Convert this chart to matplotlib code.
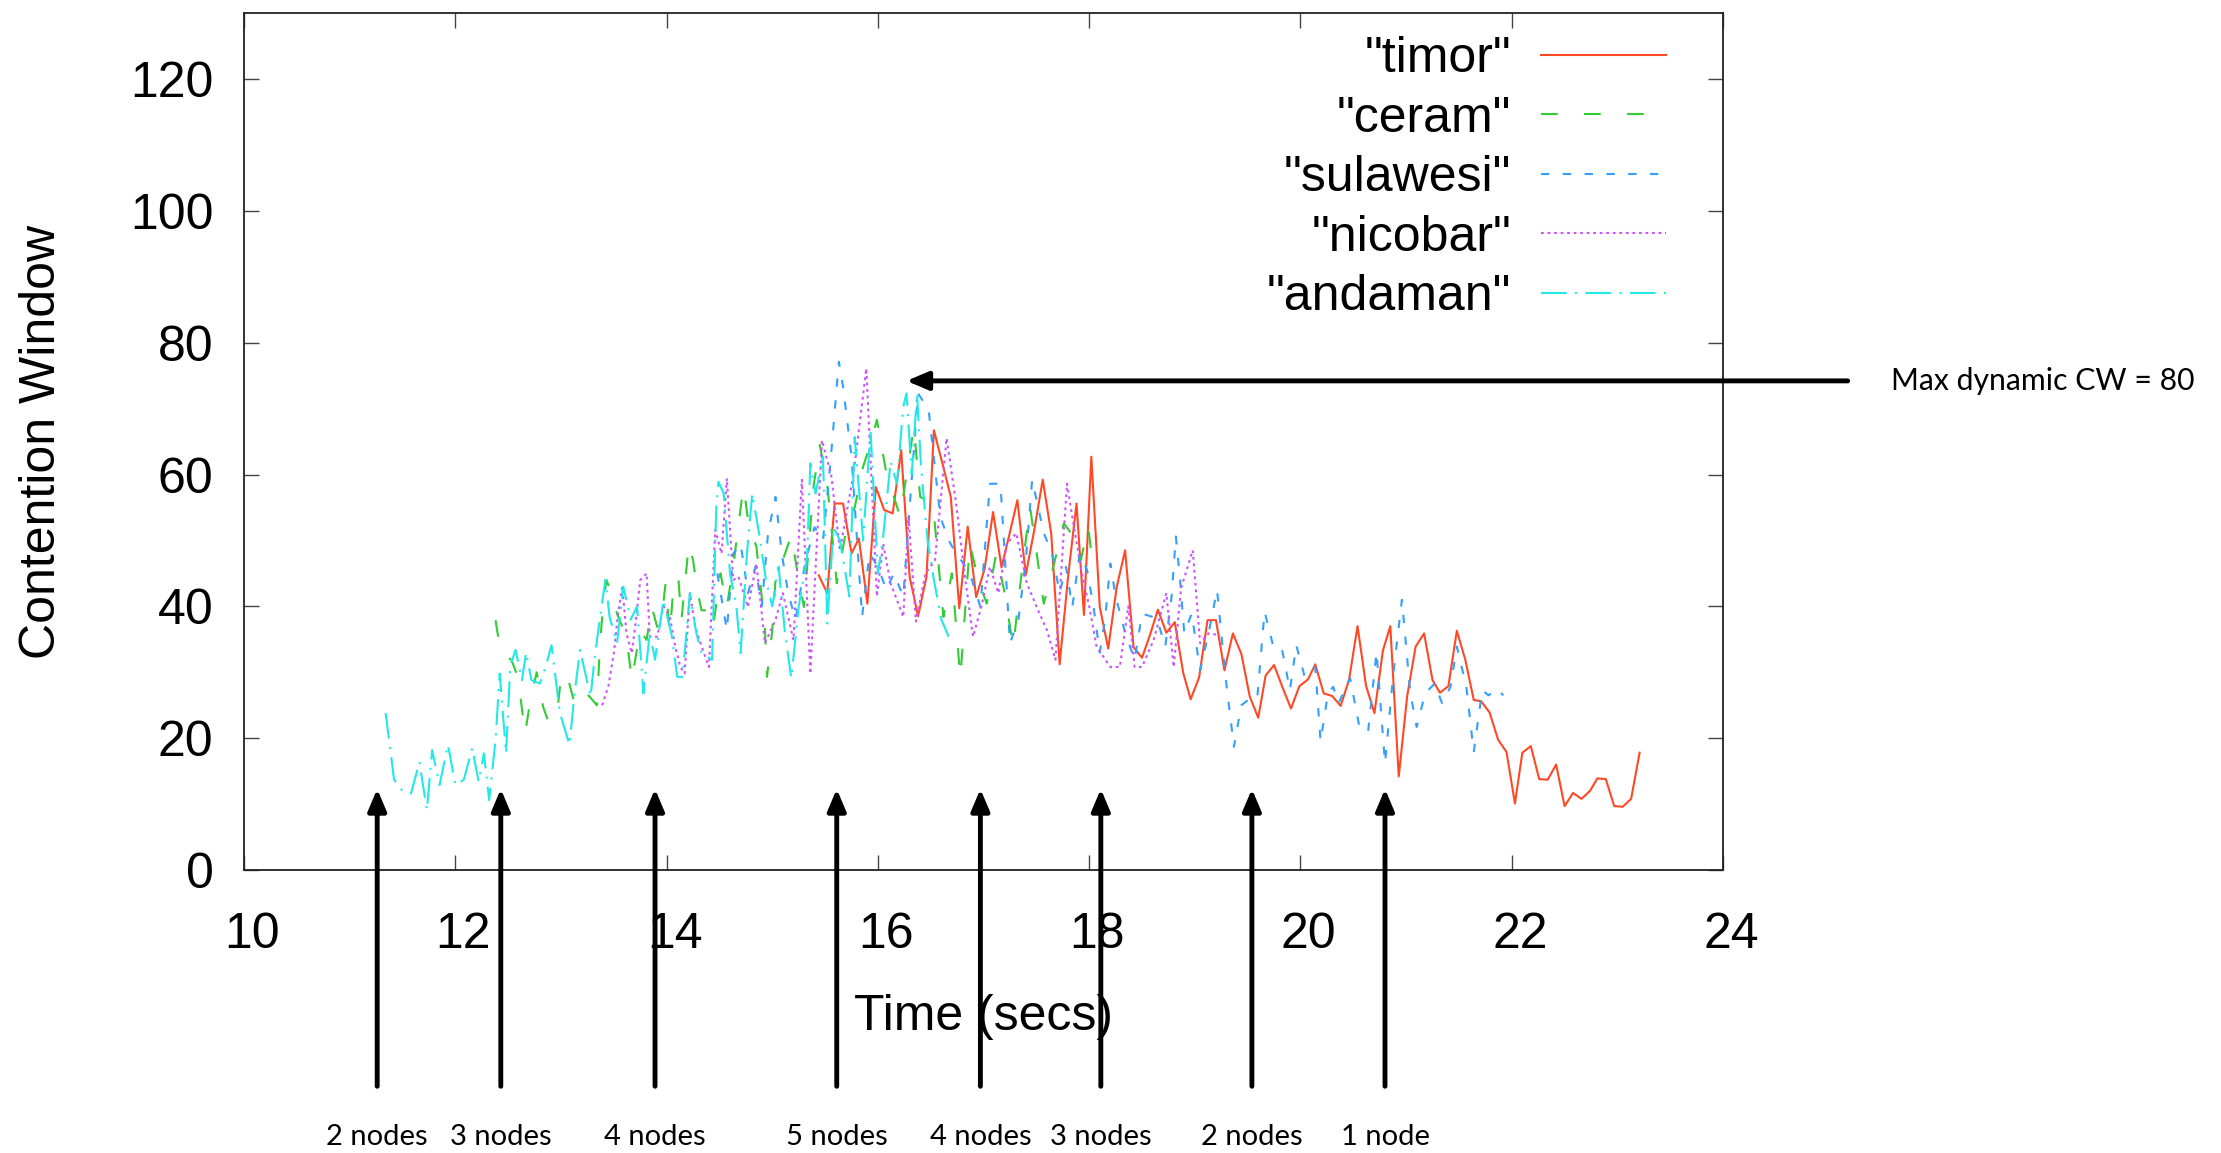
import matplotlib
matplotlib.use("Agg")
import matplotlib.pyplot as plt
import matplotlib.transforms as mtransforms

plt.rcParams['font.family'] = ['Liberation Sans', 'DejaVu Sans']
plt.rcParams['lines.scale_dashes'] = False

# --- data ------------------------------------------------------------------
timor_t = [15.44, 15.52, 15.59, 15.67, 15.75, 15.82, 15.90, 15.98, 16.06, 16.14,
           16.22, 16.30, 16.38, 16.46, 16.53, 16.61, 16.69, 16.77, 16.85, 16.93,
           17.01, 17.09, 17.17, 17.24, 17.32, 17.40, 17.48, 17.56, 17.64, 17.72,
           17.80, 17.88, 17.95, 18.02, 18.10, 18.18, 18.26,
           18.34, 18.42, 18.50, 18.58, 18.65, 18.73, 18.81, 18.89, 18.96, 19.04,
           19.12, 19.20, 19.28, 19.36, 19.44, 19.52, 19.60, 19.67, 19.75, 19.83,
           19.91, 19.99, 20.07, 20.14, 20.22, 20.30, 20.38, 20.46, 20.54, 20.62,
           20.70, 20.78, 20.85, 20.93, 21.01, 21.09, 21.17, 21.25, 21.32, 21.40,
           21.48, 21.56, 21.64, 21.71, 21.79, 21.87, 21.95, 22.03, 22.10, 22.18,
           22.26, 22.34, 22.42, 22.50, 22.58, 22.66, 22.74, 22.81, 22.89, 22.97,
           23.05, 23.13, 23.21]
timor_cw = [44.7, 42.0, 55.6, 55.6, 48.0, 50.3, 40.4, 58.1, 54.6, 54.1,
            63.7, 44.5, 38.5, 44.5, 66.7, 61.7, 56.6, 39.7, 52.1, 41.4,
            45.7, 54.3, 45.9, 50.6, 56.1, 44.8, 51.6, 59.2, 51.1, 31.2,
            44.5, 55.6, 38.7, 62.7, 39.9, 33.6, 42.9,
            48.5, 33.8, 32.2, 35.9, 39.5, 36.0, 37.6, 29.9, 25.9, 29.2,
            37.9, 37.9, 30.3, 35.9, 32.8, 26.3, 23.1, 29.5, 31.1, 27.7,
            24.5, 27.9, 28.9, 31.2, 26.8, 26.4, 24.9, 28.9, 37.0, 28.0,
            23.8, 33.3, 37.0, 14.2, 26.4, 33.9, 35.9, 28.8, 26.9, 27.9,
            36.3, 31.9, 25.8, 25.6, 23.9, 19.8, 17.9, 10.1, 17.8, 18.8,
            13.8, 13.7, 16.0, 9.7, 11.7, 10.8, 12.0, 13.9, 13.8, 9.7,
            9.6, 10.8, 17.8]

ceram_t = [12.38, 12.43, 12.53, 12.58, 12.61, 12.66, 12.71, 12.77, 12.83, 12.88,
           12.96, 12.99, 13.05, 13.12, 13.18, 13.26, 13.34, 13.37, 13.40, 13.43,
           13.50, 13.53, 13.62, 13.67, 13.75, 13.81, 13.86, 13.91, 13.95, 13.99,
           14.03, 14.06, 14.11, 14.14, 14.18, 14.21, 14.25, 14.29, 14.33, 14.40,
           14.44, 14.51, 14.57, 14.63, 14.71, 14.73, 14.77, 14.85, 14.93, 14.95,
           15.00, 15.04, 15.11, 15.18, 15.24, 15.30, 15.39, 15.45, 15.52, 15.61,
           15.71, 15.78, 15.86, 15.94, 15.99, 16.08, 16.21, 16.34, 16.40, 16.52,
           16.62, 16.70, 16.78, 16.87, 16.95, 17.03, 17.12, 17.20, 17.28, 17.36,
           17.44, 17.57, 17.66, 17.76, 17.85, 17.92, 17.99, 18.04]
ceram_cw = [37.9, 32.9, 31.9, 29.8, 27.0, 20.7, 25.8, 30.0, 24.8, 22.5,
            23.3, 27.8, 30.0, 25.8, 24.5, 26.5, 25.0, 34.4, 40.5, 44.0,
            41.0, 38.9, 35.4, 28.8, 36.4, 34.9, 39.9, 36.9, 37.9, 43.5,
            35.9, 42.0, 44.5, 37.9, 44.5, 49.5, 47.0, 42.5, 39.4, 39.4,
            36.9, 45.0, 40.0, 46.0, 56.1, 58.1, 53.1, 49.0, 36.9, 29.3,
            36.4, 46.5, 47.5, 50.8, 45.0, 39.9, 58.1, 64.5, 58.6, 43.5,
            52.6, 55.0, 61.2, 65.2, 68.3, 60.2, 53.6, 67.2, 56.6, 55.6,
            38.4, 45.0, 29.1, 49.5, 44.0, 40.4, 48.0, 42.0, 33.9, 45.0,
            55.1, 40.4, 46.0, 52.6, 50.6, 47.0, 52.1, 45.5]

sulawesi_t = [14.48, 14.57, 14.63, 14.70, 14.77, 14.84, 14.90, 14.96, 15.03, 15.09,
              15.15, 15.22, 15.31, 15.40, 15.48, 15.55, 15.63, 15.67, 15.75, 15.85,
              15.92, 16.00, 16.08, 16.15, 16.24, 16.30, 16.38, 16.48, 16.59, 16.67,
              16.74, 16.81, 16.89, 16.97, 17.06, 17.16, 17.25, 17.33, 17.40, 17.46,
              17.57, 17.65, 17.72, 17.78, 17.84, 17.91, 17.98, 18.04, 18.10, 18.15,
              18.20, 18.25, 18.34, 18.43, 18.50, 18.64, 18.72, 18.78, 18.82, 18.86,
              18.90, 18.97, 19.05, 19.13, 19.21, 19.29, 19.37, 19.44, 19.52, 19.59,
              19.66, 19.74, 19.82, 19.90, 19.96, 20.04, 20.14, 20.19, 20.26, 20.31,
              20.36, 20.47, 20.56, 20.64, 20.72, 20.80, 20.88, 20.96, 21.04, 21.10,
              21.18, 21.27, 21.34, 21.42, 21.48, 21.57, 21.64, 21.72, 21.78, 21.86,
              21.92]
sulawesi_cw = [45.0, 36.4, 48.0, 49.5, 42.0, 46.0, 40.0, 51.1, 56.6, 48.0,
               42.0, 38.0, 46.5, 52.0, 50.0, 61.7, 77.1, 73.3, 62.7, 38.4,
               48.0, 46.0, 42.5, 45.0, 41.5, 55.0, 72.3, 69.8, 53.6, 50.0,
               48.0, 46.5, 44.0, 39.9, 58.6, 58.6, 34.4, 38.0, 47.0, 59.2,
               51.1, 48.0, 42.0, 46.0, 39.9, 48.0, 45.5, 40.0, 33.0, 38.0,
               46.5, 41.5, 36.0, 31.9, 38.9, 38.2, 33.9, 41.5, 50.6, 44.0,
               35.9, 38.9, 30.3, 35.9, 42.5, 29.3, 18.7, 25.0, 26.0, 26.0,
               39.2, 34.1, 33.9, 27.3, 34.1, 29.3, 30.8, 19.5, 26.8, 27.8,
               25.3, 29.1, 21.5, 21.0, 33.1, 16.2, 30.0, 41.0, 26.8, 21.7,
               26.8, 28.3, 25.3, 27.8, 33.9, 27.8, 17.9, 27.3, 26.5, 27.5,
               26.5]

nicobar_t = [13.39, 13.45, 13.50, 13.54, 13.58, 13.62, 13.67, 13.71, 13.75, 13.81,
             13.84, 13.91, 13.97, 14.03, 14.08, 14.13, 14.17, 14.22, 14.27, 14.33,
             14.40, 14.46, 14.52, 14.57, 14.63, 14.68, 14.77, 14.85, 14.93, 15.03,
             15.10, 15.20, 15.28, 15.36, 15.47, 15.56, 15.64, 15.77, 15.89, 15.99,
             16.05, 16.12, 16.24, 16.29, 16.36, 16.45, 16.54, 16.65, 16.74, 16.82,
             16.90, 16.98, 17.06, 17.14, 17.22, 17.31, 17.41, 17.50, 17.60, 17.68,
             17.79, 17.85, 17.93, 18.00, 18.07, 18.20, 18.29, 18.37, 18.43, 18.50,
             18.61, 18.73, 18.80, 18.87, 18.98, 19.05, 19.13, 19.24]
nicobar_cw = [25.0, 28.0, 32.9, 38.9, 43.0, 35.9, 32.9, 38.0, 44.0, 45.0,
              35.4, 35.4, 40.0, 38.4, 34.0, 30.8, 29.8, 42.0, 36.9, 34.0,
              30.8, 51.6, 48.0, 59.4, 44.0, 44.5, 39.9, 46.5, 34.4, 37.9,
              42.0, 34.9, 59.2, 29.8, 65.2, 59.7, 48.5, 60.2, 76.1, 41.5,
              49.5, 43.5, 38.4, 53.6, 37.7, 45.0, 47.0, 65.5, 55.6, 45.0,
              35.4, 40.0, 46.0, 42.0, 49.5, 51.1, 43.5, 40.0, 36.4, 31.9,
              58.6, 52.6, 45.0, 40.0, 33.9, 30.8, 30.8, 40.0, 30.8, 30.8,
              34.9, 42.0, 30.8, 42.8, 48.5, 34.4, 35.9, 35.6]

andaman_t = [11.34, 11.42, 11.50, 11.58, 11.66, 11.73, 11.78, 11.85, 11.93, 12.00,
             12.08, 12.16, 12.22, 12.27, 12.32, 12.38, 12.42, 12.48, 12.52, 12.57,
             12.63, 12.67, 12.72, 12.80, 12.85, 12.91, 12.99, 13.08, 13.13, 13.18,
             13.28, 13.32, 13.37, 13.42, 13.46, 13.53, 13.59, 13.66, 13.72, 13.78,
             13.84, 13.89, 13.97, 14.05, 14.10, 14.15, 14.22, 14.28, 14.33, 14.43,
             14.47, 14.49, 14.54, 14.60, 14.66, 14.70, 14.76, 14.81, 14.88, 14.94,
             15.00, 15.06, 15.12, 15.18, 15.25, 15.33, 15.36, 15.41, 15.48, 15.52,
             15.58, 15.64, 15.73, 15.78, 15.86, 15.93, 16.00, 16.05, 16.12, 16.18,
             16.24, 16.27, 16.32, 16.37, 16.41, 16.47, 16.53, 16.60, 16.67]
andaman_cw = [23.8, 13.7, 12.0, 11.6, 16.4, 9.1, 18.2, 12.9, 19.0, 12.9,
              13.7, 18.5, 13.4, 17.7, 10.6, 19.7, 29.8, 17.7, 31.0, 33.4,
              28.8, 33.0, 28.8, 28.3, 30.6, 34.1, 23.8, 19.0, 27.0, 33.4,
              26.3, 32.4, 38.4, 44.0, 38.4, 34.4, 43.0, 38.0, 40.0, 26.8,
              36.0, 31.9, 41.0, 35.4, 29.3, 29.3, 42.0, 36.0, 32.9, 31.9,
              55.1, 58.9, 57.1, 45.0, 40.0, 32.9, 48.0, 57.1, 50.6, 44.0,
              40.0, 46.0, 36.0, 29.1, 40.0, 47.5, 61.7, 57.1, 62.7, 37.4,
              52.0, 50.0, 41.5, 65.7, 50.0, 66.7, 45.0, 50.6, 62.0, 58.6,
              70.3, 72.3, 60.0, 72.3, 60.7, 50.0, 44.0, 38.0, 35.4]

node_times = [11.26, 12.43, 13.89, 15.61, 16.97, 18.11, 19.54, 20.80]
node_labels = ["2 nodes", "3 nodes", "4 nodes", "5 nodes", "4 nodes", "3 nodes", "2 nodes", "1 node"]

# --- figure ------------------------------------------------------------------
fig = plt.figure(figsize=(22.21, 11.53), dpi=100)
ax = fig.add_axes([0.1099, 0.2454, 0.6659, 0.7433])

ax.plot(timor_t, timor_cw, color='#ff4826', lw=1.5, label='"timor"')
ax.plot(ceram_t, ceram_cw, color='#33cc33', lw=1.5, dashes=(12, 19), label='"ceram"')
ax.plot(sulawesi_t, sulawesi_cw, color='#33a0ff', lw=1.5, dashes=(6, 9.7), label='"sulawesi"')
ax.plot(nicobar_t, nicobar_cw, color='#cc55ff', lw=1.5, dashes=(2, 2.7), label='"nicobar"')
ax.plot(andaman_t, andaman_cw, color='#22e8e8', lw=1.5, dashes=(18.5, 6, 1.5, 6), label='"andaman"')

ax.set_xlim(10, 24)
ax.set_ylim(0, 130)
ax.set_xticks(range(10, 25, 2))
ax.set_yticks(range(0, 121, 20))
ax.tick_params(direction='in', length=11, width=1, color='#444444', labelsize=36,
               top=True, right=True)
ax.tick_params(axis='x', pad=30)
ax.tick_params(axis='y', pad=22)
for s in ax.spines.values():
    s.set_linewidth(1.3)
    s.set_color('#222222')

# x tick labels sit a few pixels right of their ticks in the original
shift = mtransforms.ScaledTranslation(0.08, 0, fig.dpi_scale_trans)
for lab in ax.get_xticklabels():
    lab.set_transform(lab.get_transform() + shift)

ax.set_xlabel("Time (secs)", fontsize=36)
ax.set_ylabel("Contention Window", fontsize=36)
ax.xaxis.set_label_coords(0.4997, -0.145)
ax.yaxis.set_label_coords(-0.121, 0.5)

leg = ax.legend(loc='upper right', frameon=False, fontsize=36, markerfirst=False,
                handlelength=2.5, handletextpad=0.6, labelspacing=0.27,
                borderaxespad=0.2, bbox_to_anchor=(0.982, 1.008))
for t in leg.get_texts():
    t.set_ha('right')

# node-count arrows below the plot
note_font = ['Lato', 'DejaVu Sans']
for t, lab in zip(node_times, node_labels):
    ax.annotate('', xy=(t, 12.3), xytext=(t, -32.8), annotation_clip=False,
                arrowprops=dict(arrowstyle='-|>,head_length=1.3,head_width=0.55',
                                lw=3.5, color='black', shrinkA=0, shrinkB=0))
    ax.text(t, -40.5, lab, ha='center', va='center', fontsize=21,
            family=note_font, clip_on=False)

# max CW arrow
ax.annotate('', xy=(16.27, 74.2), xytext=(25.18, 74.2), annotation_clip=False,
            arrowprops=dict(arrowstyle='-|>,head_length=1.3,head_width=0.55',
                            lw=3.5, color='black', shrinkA=0, shrinkB=0))
ax.text(25.59, 74.2, "Max dynamic CW = 80", ha='left', va='center', fontsize=21.7,
        family=note_font, clip_on=False)

fig.savefig("out.png", dpi=100)
